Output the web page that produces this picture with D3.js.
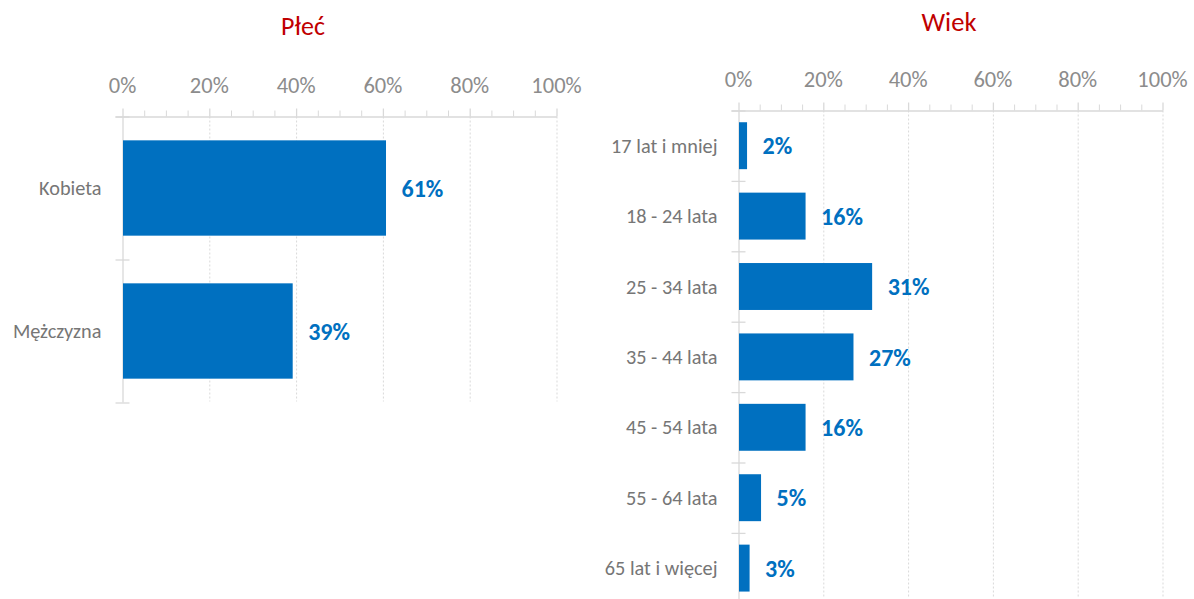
<!DOCTYPE html>
<html>
<head>
<meta charset="utf-8">
<script src="https://cdn.jsdelivr.net/npm/d3@7"></script>
<style>
  html, body { margin: 0; padding: 0; background: #ffffff; }
  svg { display: block; }
</style>
</head>
<body>
<svg id="chart" width="1194" height="599"></svg>
<script>
// ---- data ----
const genderTitle = "Płeć";
const genderCategories = ["Kobieta", "Mężczyzna"];
const genderValues = [60.6, 39.1];

const ageTitle = "Wiek";
const ageCategories = ["17 lat i mniej", "18 - 24 lata", "25 - 34 lata", "35 - 44 lata", "45 - 54 lata", "55 - 64 lata", "65 lat i więcej"];
const ageValues = [1.9, 15.7, 31.4, 27.0, 15.7, 5.2, 2.5];

const majorTicks = [0, 20, 40, 60, 80, 100];
const tickLabels = ["0%", "20%", "40%", "60%", "80%", "100%"];
const minorTicks = d3.range(0, 101, 5);

// ---- style ----
const FONT = "Carlito, Calibri, Lato, sans-serif";
const BAR = "#0070C0";
const AXIS = "#d9d9d9";
const TICKTXT = "#8c8c8c";
const CATTXT = "#767676";
const TITLE = "#C00000";

const svg = d3.select("#chart");

function drawPanel(cfg) {
  const g = svg.append("g");
  const x = d3.scaleLinear().domain([0, 100]).range([cfg.x0, cfg.x1]);
  const y = d3.scaleBand().domain(cfg.categories).range([cfg.y0, cfg.y1])
    .paddingInner(1/3).paddingOuter(1/6);
  const step = y.step();

  // title
  g.append("text").attr("x", cfg.titleX).attr("y", cfg.titleY)
    .attr("text-anchor", "middle").attr("font-family", FONT)
    .attr("font-size", cfg.titleSize).attr("fill", TITLE).text(cfg.title);

  const yBottom = Math.min(cfg.y1, 599);

  // gridlines (dotted)
  g.selectAll(".grid").data(majorTicks.filter(d => d > 0)).enter().append("line")
    .attr("x1", d => x(d) + 0.5).attr("x2", d => x(d) + 0.5)
    .attr("y1", cfg.y0).attr("y2", yBottom - 1)
    .attr("stroke", AXIS).attr("stroke-width", 1).attr("stroke-dasharray", "2,2");

  // top axis line
  g.append("line").attr("x1", cfg.x0 - 7).attr("x2", x(100) + 0.5)
    .attr("y1", cfg.y0 + 0.5).attr("y2", cfg.y0 + 0.5)
    .attr("stroke", AXIS).attr("stroke-width", 1.3);

  // minor ticks
  g.selectAll(".minor").data(minorTicks.filter(d => d % 20 !== 0)).enter().append("line")
    .attr("x1", d => x(d) + 0.5).attr("x2", d => x(d) + 0.5)
    .attr("y1", cfg.y0 - 6).attr("y2", cfg.y0)
    .attr("stroke", AXIS).attr("stroke-width", 1);
  // major ticks
  g.selectAll(".major").data(majorTicks).enter().append("line")
    .attr("x1", d => x(d) + 0.5).attr("x2", d => x(d) + 0.5)
    .attr("y1", cfg.y0 - 8).attr("y2", cfg.y0)
    .attr("stroke", AXIS).attr("stroke-width", 1.3);

  // tick labels
  g.selectAll(".tl").data(majorTicks).enter().append("text")
    .attr("x", d => x(d)).attr("y", cfg.y0 - 24)
    .attr("text-anchor", "middle").attr("font-family", FONT)
    .attr("font-size", 22.5).attr("fill", TICKTXT)
    .text((d, i) => tickLabels[i]);

  // vertical axis line
  g.append("line").attr("x1", cfg.x0 + 0.5).attr("x2", cfg.x0 + 0.5)
    .attr("y1", cfg.y0).attr("y2", yBottom)
    .attr("stroke", AXIS).attr("stroke-width", 1.3);

  // category boundary ticks
  const bounds = d3.range(cfg.categories.length + 1).map(i => cfg.y0 + i * step).filter(v => v < 599);
  g.selectAll(".ct").data(bounds).enter().append("line")
    .attr("x1", cfg.x0 - 7).attr("x2", cfg.x0 + 7)
    .attr("y1", d => d + 0.5).attr("y2", d => d + 0.5)
    .attr("stroke", AXIS).attr("stroke-width", 1.3);

  // bars
  g.selectAll(".bar").data(cfg.values).enter().append("rect")
    .attr("x", x(0) + 0.5)
    .attr("y", (d, i) => y(cfg.categories[i]))
    .attr("width", d => x(d) - x(0))
    .attr("height", y.bandwidth())
    .attr("fill", BAR);

  // category labels
  g.selectAll(".cl").data(cfg.categories).enter().append("text")
    .attr("x", cfg.x0 - 21).attr("y", d => y(d) + y.bandwidth() / 2)
    .attr("dy", "0.35em").attr("text-anchor", "end")
    .attr("font-family", FONT).attr("font-size", 20.3).attr("fill", CATTXT)
    .text(d => d);

  // value labels
  g.selectAll(".vl").data(cfg.values).enter().append("text")
    .attr("x", d => x(d) + 16)
    .attr("y", (d, i) => y(cfg.categories[i]) + y.bandwidth() / 2)
    .attr("dy", "0.36em")
    .attr("font-family", FONT).attr("font-size", 24).attr("font-weight", "bold")
    .attr("fill", BAR)
    .text(d => Math.round(d) + "%");
}

drawPanel({
  title: genderTitle, titleX: 303, titleY: 35, titleSize: 26,
  categories: genderCategories, values: genderValues,
  x0: 122.5, x1: 556.5, y0: 116.5, y1: 402.5
});

drawPanel({
  title: ageTitle, titleX: 949, titleY: 31, titleSize: 26.5,
  categories: ageCategories, values: ageValues,
  x0: 738.5, x1: 1162.5, y0: 110.5, y1: 110.5 + 7 * 70.4
});
</script>
</body>
</html>
